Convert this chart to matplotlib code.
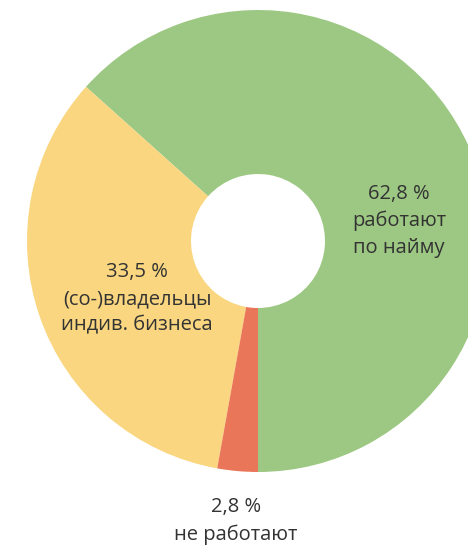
import matplotlib
matplotlib.use("Agg")
import matplotlib.pyplot as plt

labels = ["62,8 %\nработают\nпо найму", "33,5 %\n(со-)владельцы\nиндив. бизнеса", "2,8 %\nне работают"]
values = [62.8, 33.5, 2.8]
colors = ["#9dc883", "#f9d67f", "#ea7659"]

W, H = 468, 545
fig = plt.figure(figsize=(W / 100, H / 100), dpi=100)
ax = fig.add_axes([0, 0, 1, 1])

cx, cy = 258, H - 241
R = 231
ax.pie(values, colors=colors, startangle=270, counterclock=True,
       center=(cx, cy), radius=R, wedgeprops=dict(width=R - 67, linewidth=0),
       frame=True)
ax.set_xlim(0, W)
ax.set_ylim(0, H)
ax.axis("off")

font = dict(family=["Open Sans", "DejaVu Sans"], fontsize=14.5, color="#333333",
            fontweight="normal", ha="center", va="center", linespacing=1.45)
ax.text(399, H - 221, labels[0], **font)
ax.text(137, H - 299, labels[1], **font)
ax.text(236, H - 521, labels[2], **font)

fig.savefig("out.png", dpi=100)
